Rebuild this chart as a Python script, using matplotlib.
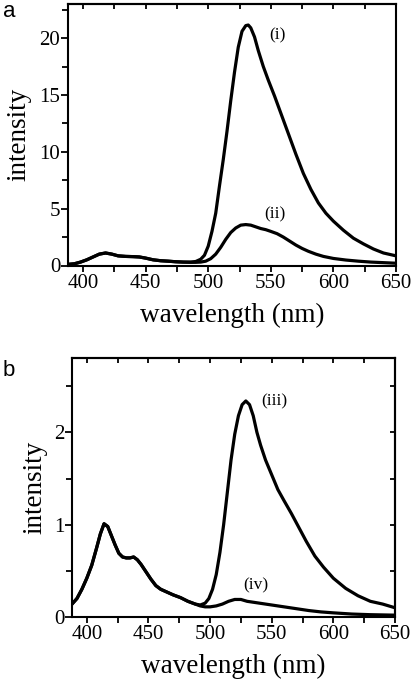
import matplotlib.pyplot as plt
from matplotlib.ticker import MultipleLocator

# panel a: emission spectra (i) and (ii)
wl_a_i = [388, 393, 398, 403, 408, 413, 418, 423, 428, 434, 440, 445, 450, 456, 462, 468,
          474, 480, 486, 490, 494, 497, 500, 503, 506, 509, 512, 515, 518, 521, 524, 527,
          530, 532, 534, 537, 540, 544, 548, 553, 558, 564, 570, 576, 582, 588, 594, 600,
          608, 616, 624, 632, 640, 650]
int_a_i = [0.1, 0.15, 0.3, 0.5, 0.75, 1.0, 1.1, 1.0, 0.85, 0.8, 0.78, 0.75, 0.65, 0.5, 0.42,
           0.38, 0.33, 0.3, 0.3, 0.35, 0.55, 0.9, 1.7, 3.0, 4.6, 7.0, 9.3, 11.8, 14.5, 17.0,
           19.2, 20.6, 21.1, 21.15, 20.9, 20.1, 18.9, 17.5, 16.3, 14.9, 13.4, 11.6, 9.8, 8.1,
           6.7, 5.5, 4.6, 3.9, 3.1, 2.4, 1.9, 1.45, 1.1, 0.85]

wl_a_ii = [388, 393, 398, 403, 408, 413, 418, 423, 428, 434, 440, 445, 450, 456, 462, 468,
           474, 480, 486, 490, 494, 498, 502, 506, 510, 514, 518, 522, 526, 530, 534, 538,
           542, 546, 550, 555, 560, 565, 570, 575, 580, 586, 592, 600, 610, 620, 630, 640, 650]
int_a_ii = [0.1, 0.15, 0.3, 0.5, 0.75, 1.0, 1.1, 1.0, 0.85, 0.8, 0.78, 0.75, 0.65, 0.5, 0.42,
            0.38, 0.33, 0.3, 0.28, 0.28, 0.3, 0.38, 0.6, 1.0, 1.6, 2.3, 2.9, 3.3, 3.55, 3.6,
            3.55, 3.4, 3.25, 3.15, 3.0, 2.8, 2.5, 2.15, 1.8, 1.5, 1.25, 1.0, 0.8, 0.62, 0.48,
            0.38, 0.3, 0.25, 0.2]

# panel b: emission spectra (iii) and (iv)
wl_b_iii = [388, 392, 396, 400, 404, 408, 411, 414, 417, 420, 423, 426, 429, 432, 435, 438,
            441, 444, 448, 452, 456, 460, 465, 470, 476, 482, 488, 492, 496, 499, 502, 505,
            508, 511, 514, 517, 520, 523, 526, 529, 532, 535, 538, 541, 545, 550, 555, 560,
            566, 572, 578, 585, 592, 600, 610, 620, 630, 640, 650]
int_b_iii = [0.14, 0.2, 0.3, 0.42, 0.56, 0.75, 0.9, 1.01, 0.98, 0.88, 0.78, 0.69, 0.65, 0.64,
             0.64, 0.65, 0.62, 0.57, 0.49, 0.41, 0.34, 0.3, 0.27, 0.24, 0.21, 0.17, 0.14, 0.13,
             0.15, 0.2, 0.3, 0.46, 0.7, 1.0, 1.35, 1.7, 1.98, 2.18, 2.3, 2.34, 2.3, 2.18, 2.0,
             1.86, 1.7, 1.54, 1.38, 1.26, 1.12, 0.97, 0.82, 0.66, 0.54, 0.42, 0.31, 0.23, 0.17,
             0.14, 0.1]

wl_b_iv = [388, 392, 396, 400, 404, 408, 411, 414, 417, 420, 423, 426, 429, 432, 435, 438,
           441, 444, 448, 452, 456, 460, 465, 470, 476, 482, 488, 492, 496, 500, 505, 510,
           515, 520, 525, 530, 535, 540, 550, 560, 570, 580, 590, 600, 615, 630, 650]
int_b_iv = [0.14, 0.2, 0.3, 0.42, 0.56, 0.75, 0.9, 1.01, 0.98, 0.88, 0.78, 0.69, 0.65, 0.64,
            0.64, 0.65, 0.62, 0.57, 0.49, 0.41, 0.34, 0.3, 0.27, 0.24, 0.21, 0.17, 0.14, 0.12,
            0.11, 0.11, 0.12, 0.14, 0.17, 0.19, 0.19, 0.17, 0.16, 0.15, 0.13, 0.11, 0.09, 0.07,
            0.055, 0.045, 0.032, 0.025, 0.02]

serif = ['Liberation Serif', 'DejaVu Serif']
plt.rcParams['font.family'] = serif

fig = plt.figure(figsize=(4.13, 6.83), dpi=100)
ax_a = fig.add_axes([68 / 413, 1 - 265.5 / 683, 328 / 413, 261.5 / 683])
ax_b = fig.add_axes([72 / 413, 1 - 617 / 683, 323 / 413, 258.5 / 683])


def style_axes(ax, ymax, ymajor, yminor, right_ticks, ypad):
    ax.set_xlim(388, 650)
    ax.set_ylim(0, ymax)
    ax.xaxis.set_major_locator(MultipleLocator(50))
    ax.xaxis.set_minor_locator(MultipleLocator(25))
    ax.yaxis.set_major_locator(MultipleLocator(ymajor))
    ax.yaxis.set_minor_locator(MultipleLocator(yminor))
    for sp in ax.spines.values():
        sp.set_linewidth(1.5)
    ax.tick_params(axis='x', which='both', bottom=True, top=False, direction='out',
                   length=4.5, width=1.3, labelsize=15, pad=1.5)
    ax.tick_params(axis='y', which='both', left=True, right=False, direction='out',
                   width=1.3, labelsize=15, pad=0.5)
    ax.tick_params(axis='y', which='major', length=5)
    ax.tick_params(axis='y', which='minor', length=4)
    # mirrored inward ticks on the top (and right for panel b)
    sec = ax.secondary_xaxis('top')
    sec.xaxis.set_major_locator(MultipleLocator(25))
    sec.tick_params(direction='in', length=3.5, width=1.3, labeltop=False)
    sec.spines['top'].set_linewidth(1.5)
    if right_ticks:
        sec_y = ax.secondary_yaxis('right')
        sec_y.yaxis.set_major_locator(MultipleLocator(yminor))
        sec_y.tick_params(direction='in', length=3.5, width=1.3, labelright=False)
        sec_y.spines['right'].set_linewidth(1.5)
    ax.set_xlabel('wavelength (nm)', fontsize=19.5, labelpad=7)
    ax.set_ylabel('intensity', fontsize=19.5, labelpad=ypad)


ax_a.plot(wl_a_i, int_a_i, color='black', lw=2.3, solid_joinstyle='round')
ax_a.plot(wl_a_ii, int_a_ii, color='black', lw=2.3, solid_joinstyle='round')
style_axes(ax_a, 23, 5, 2.5, False, 6)
ax_a.text(555.5, 20.2, '(i)', fontsize=12.5, ha='center', va='center')
ax_a.text(553.5, 4.5, '(ii)', fontsize=12.5, ha='center', va='center')

ax_b.plot(wl_b_iii, int_b_iii, color='black', lw=2.3, solid_joinstyle='round')
ax_b.plot(wl_b_iv, int_b_iv, color='black', lw=2.3, solid_joinstyle='round')
style_axes(ax_b, 2.8, 1, 0.5, True, 4.5)
ax_b.text(552.5, 2.34, '(iii)', fontsize=12.5, ha='center', va='center')
ax_b.text(537, 0.34, '(iv)', fontsize=12.5, ha='center', va='center')

fig.text(3 / 413, 1 - 17 / 683, 'a', fontsize=16, family='Liberation Sans', ha='left', va='baseline')
fig.text(3 / 413, 1 - 376.5 / 683, 'b', fontsize=16, family='Liberation Sans', ha='left', va='baseline')

fig.savefig('out.png', dpi=100)
